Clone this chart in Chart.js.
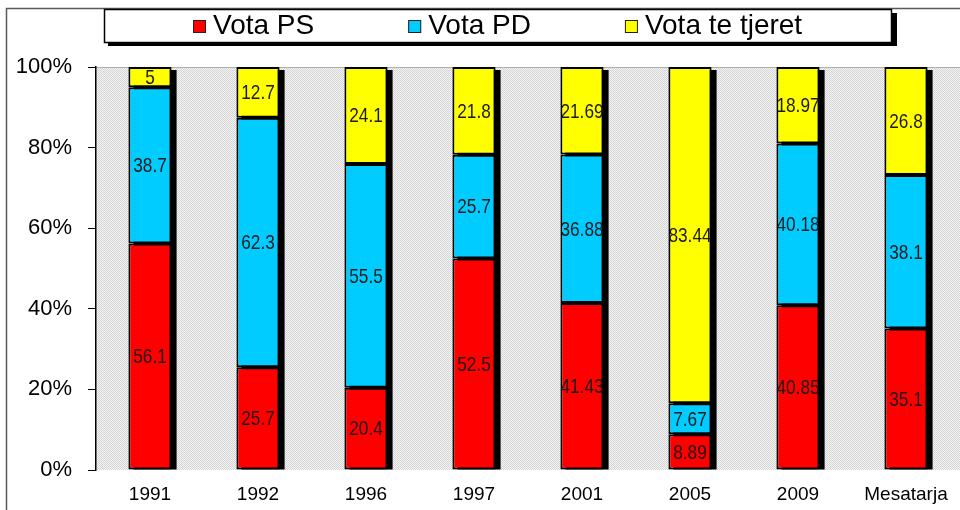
<!DOCTYPE html>
<html>
<head>
<meta charset="utf-8">
<script src="https://cdn.jsdelivr.net/npm/chart.js@4"></script>
<style>
  body { margin: 0; background: #fff; }
  canvas { display: block; }
</style>
</head>
<body>
<canvas id="myChart" width="960" height="510"></canvas>
<script>
// vote shares per election (raw values as printed on the bars)
const years = ["1991", "1992", "1996", "1997", "2001", "2005", "2009", "Mesatarja"];
const votaPS = [56.1, 25.7, 20.4, 52.5, 41.43, 8.89, 40.85, 35.1];
const votaPD = [38.7, 62.3, 55.5, 25.7, 36.88, 7.67, 40.18, 38.1];
const votaTjeret = [5, 12.7, 24.1, 21.8, 21.69, 83.44, 18.97, 26.8];
const yTicks = [0, 20, 40, 60, 80, 100];

const seriesNames = ["Vota PS", "Vota PD", "Vota te tjeret"];
const seriesColors = ["#ff0000", "#00ccff", "#ffff00"];

// 100% stacked -> turn each raw value into share of its column
let totals = years.map((y, i) => votaPS[i] + votaPD[i] + votaTjeret[i]);
function toPct(arr) {
  return arr.map((v, i) => v / totals[i] * 100);
}
const rawSeries = [votaPS, votaPD, votaTjeret];

// dotted grey fill for the plot area
function makePattern(ctx) {
  let c = document.createElement("canvas");
  c.width = 2; c.height = 2;
  let p = c.getContext("2d");
  p.fillStyle = "#f6f6f6";
  p.fillRect(0, 0, 2, 2);
  p.fillStyle = "#d2d2d2";
  p.fillRect(0, 0, 1, 1);
  p.fillRect(1, 1, 1, 1);
  return ctx.createPattern(c, "repeat");
}

const backgroundPlugin = {
  id: "bg",
  beforeDraw(chart) {
    let ctx = chart.ctx;
    let a = chart.chartArea;
    ctx.save();
    ctx.fillStyle = "#fff";
    ctx.fillRect(0, 0, chart.width, chart.height);
    // outer frame
    ctx.strokeStyle = "#5a5a5a";
    ctx.lineWidth = 1.5;
    ctx.beginPath();
    ctx.moveTo(960, 8.5);
    ctx.lineTo(6.5, 8.5);
    ctx.lineTo(6.5, 510);
    ctx.stroke();
    // plot area
    ctx.fillStyle = makePattern(ctx);
    ctx.fillRect(a.left, a.top, a.right - a.left, a.bottom - a.top);
    ctx.strokeStyle = "#b0b0b0";
    ctx.lineWidth = 1;
    ctx.beginPath();
    ctx.moveTo(a.left, a.top + 0.5);
    ctx.lineTo(a.right, a.top + 0.5);
    ctx.stroke();
    ctx.restore();
  }
};

// black drop shadow to the right of each stacked column
const shadowPlugin = {
  id: "barShadow",
  beforeDatasetsDraw(chart) {
    let ctx = chart.ctx;
    let first = chart.getDatasetMeta(0).data;
    let last = chart.getDatasetMeta(chart.data.datasets.length - 1).data;
    ctx.save();
    ctx.fillStyle = "#000";
    for (let i = 0; i < first.length; i++) {
      let bar = first[i];
      let top = last[i].y;
      let left = bar.x - bar.width / 2;
      ctx.fillRect(left + 5, top + 3, bar.width, bar.base - top - 3);
    }
    ctx.restore();
  }
};

const labelPlugin = {
  id: "valueLabels",
  afterDatasetsDraw(chart) {
    let ctx = chart.ctx;
    ctx.save();
    ctx.font = "21px 'Liberation Sans', Arial, sans-serif";
    ctx.fillStyle = "#1a1a1a";
    ctx.textAlign = "center";
    ctx.textBaseline = "middle";
    chart.data.datasets.forEach((ds, d) => {
      let meta = chart.getDatasetMeta(d);
      meta.data.forEach((el, i) => {
        let yMid = (el.y + el.base) / 2;
        // condensed look like the original
        ctx.save();
        ctx.translate(el.x, yMid + 1);
        ctx.scale(0.82, 1);
        ctx.fillText(String(rawSeries[d][i]), 0, 0);
        ctx.restore();
      });
    });
    ctx.restore();
  }
};

// boxed legend at the top, drawn by hand so the box fits the reference
const legendPlugin = {
  id: "boxLegend",
  afterDraw(chart) {
    let ctx = chart.ctx;
    ctx.save();
    // shadow then box
    ctx.fillStyle = "#000";
    ctx.fillRect(108, 13, 789, 33);
    ctx.fillStyle = "#fff";
    ctx.fillRect(104, 9, 788, 33);
    ctx.strokeStyle = "#000";
    ctx.lineWidth = 1.5;
    ctx.strokeRect(104.5, 9.5, 787, 33);

    ctx.font = "28px 'Liberation Sans', Arial, sans-serif";
    ctx.textBaseline = "alphabetic";
    ctx.textAlign = "left";
    let x = 193;
    chart.data.datasets.forEach((ds, d) => {
      ctx.fillStyle = ds.backgroundColor;
      ctx.fillRect(x, 20, 13, 13);
      ctx.strokeStyle = "#222";
      ctx.lineWidth = 1;
      ctx.strokeRect(x + 0.5, 20.5, 12, 12);
      ctx.fillStyle = "#000";
      ctx.fillText(ds.label, x + 20, 34);
      x += 20 + ctx.measureText(ds.label).width + 94;
    });
    ctx.restore();
  }
};

const ctx = document.getElementById("myChart").getContext("2d");
let myChart = new Chart(ctx, {
  type: "bar",
  data: {
    labels: years,
    datasets: rawSeries.map((arr, d) => ({
      label: seriesNames[d],
      data: toPct(arr),
      backgroundColor: seriesColors[d],
      borderColor: "#000",
      borderWidth: 2,
      borderSkipped: false,
      categoryPercentage: 1,
      barPercentage: 0.4
    }))
  },
  options: {
    responsive: false,
    animation: false,
    layout: { padding: { top: 67, left: 6, right: 0, bottom: 0 } },
    plugins: {
      legend: { display: false },
      tooltip: { enabled: false }
    },
    scales: {
      x: {
        stacked: true,
        grid: { display: false },
        border: { display: false },
        ticks: {
          color: "#000",
          padding: 5,
          maxRotation: 0,
          font: { family: "'Liberation Sans', Arial", size: 19 }
        },
        afterFit(s) { s.height = 40; }
      },
      y: {
        stacked: true,
        min: 0,
        max: 100,
        afterBuildTicks(s) { s.ticks = yTicks.map(v => ({ value: v })); },
        grid: {
          drawOnChartArea: false,
          drawTicks: true,
          tickLength: 8,
          color: "#000"
        },
        border: { display: true, color: "#000", width: 1.5 },
        ticks: {
          color: "#000",
          padding: 16,
          font: { family: "'Liberation Sans', Arial", size: 22 },
          callback: v => v + "%"
        },
        afterFit(s) { s.width = 90; }
      }
    }
  },
  plugins: [backgroundPlugin, shadowPlugin, labelPlugin, legendPlugin]
});
</script>
</body>
</html>
